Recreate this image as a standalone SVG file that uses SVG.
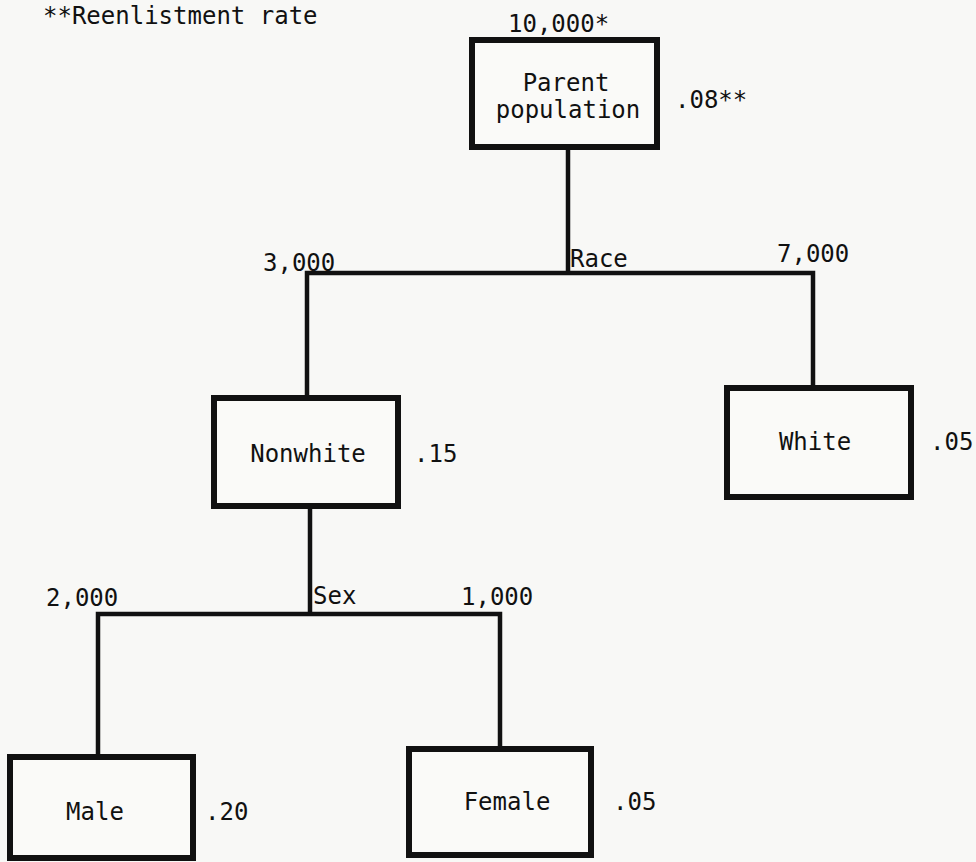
<svg xmlns="http://www.w3.org/2000/svg" width="976" height="862" viewBox="0 0 976 862">
<style>
.bg{fill:#f8f8f6}
.box{fill:#fafaf8;stroke:#111;stroke-width:6}
.ln{fill:none;stroke:#111;stroke-width:4.5}
text{font-family:"DejaVu Sans Mono","Liberation Mono",monospace;font-size:24px;fill:#111}
.c{text-anchor:middle}
</style>
<rect class="bg" x="0" y="0" width="976" height="862"/>
<text x="43" y="24">**Reenlistment rate</text>
<g id="connectors">
<polyline class="ln" points="568,147 568,273"/>
<polyline class="ln" points="307,398 307,273 813,273 813,388"/>
<polyline class="ln" points="310,505 310,614"/>
<polyline class="ln" points="98,757 98,614 500,614 500,749"/>
</g>
<g id="parent">
<rect class="box" x="472" y="40" width="185" height="107"/>
<text class="c" x="566" y="91">Parent</text>
<text class="c" x="568" y="118">population</text>
<text x="508" y="32">10,000*</text>
<text x="675" y="108">.08**</text>
</g>
<g id="race-label"><text x="570" y="267">Race</text></g>
<g id="nonwhite">
<rect class="box" x="214" y="398" width="184" height="108"/>
<text class="c" x="308" y="462">Nonwhite</text>
<text x="263" y="271">3,000</text>
<text x="414" y="462">.15</text>
</g>
<g id="white">
<rect class="box" x="727" y="388" width="184" height="109"/>
<text class="c" x="815" y="450">White</text>
<text x="777" y="262">7,000</text>
<text x="930" y="450">.05</text>
</g>
<g id="sex-label"><text x="313" y="604">Sex</text></g>
<g id="male">
<rect class="box" x="10" y="757" width="183" height="101"/>
<text class="c" x="95" y="820">Male</text>
<text x="46" y="606">2,000</text>
<text x="205" y="820">.20</text>
</g>
<g id="female">
<rect class="box" x="409" y="749" width="182" height="106"/>
<text class="c" x="507" y="810">Female</text>
<text x="461" y="605">1,000</text>
<text x="613" y="810">.05</text>
</g>
</svg>
